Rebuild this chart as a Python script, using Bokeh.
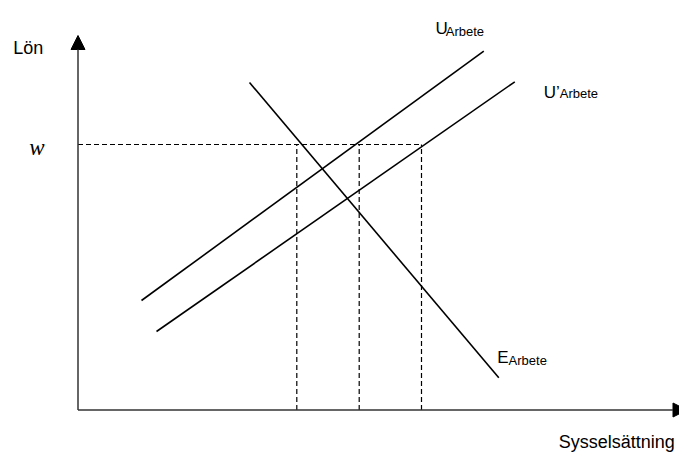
from bokeh.plotting import figure
from bokeh.models import Range1d, Arrow, NormalHead
from bokeh.core.properties import value
from bokeh.embed import file_html
from bokeh.resources import INLINE

# ---- data (diagram units, origin at the axes' corner) ----
curve_names = ["U", "U’", "E"]
curve_x0 = [63.5, 78.5, 171.5]
curve_y0 = [109.5, 78.5, 327.5]
curve_x1 = [405.8, 436.8, 420.8]
curve_y1 = [358.8, 328.2, 32.2]
subscript = "Arbete"

wage_level = 265.5
employment_levels = [218.8, 281.2, 343.5]

x_axis_end = 609.0
y_axis_end = 374.5

axis_titles = ["Lön", "Sysselsättning"]
wage_label = "w"

# ---- layout (label positions) ----
curve_label_x = [357.5, 465.8, 419.2]
curve_label_y = [381.5, 318.0, 52.2]
curve_sub_x = [367.8, 481.8, 430.6]
curve_sub_y = [378.5, 316.5, 50.0]

p = figure(width=679, height=452,
           x_range=Range1d(-77.5, 601.5), y_range=Range1d(-42.5, 409.5),
           output_backend="svg", toolbar_location=None,
           x_axis_type=None, y_axis_type=None, min_border=0)
p.grid.visible = False
p.outline_line_color = None
p.background_fill_color = "white"
p.border_fill_color = "white"

# axes with arrow heads
axis_color = "#333333"
p.add_layout(Arrow(x_start=0, y_start=0, x_end=0, y_end=y_axis_end,
                   line_color=axis_color, line_width=1.5,
                   end=NormalHead(size=14, fill_color="black", line_color="black", line_width=1)))
p.add_layout(Arrow(x_start=0, y_start=0, x_end=x_axis_end, y_end=0,
                   line_color=axis_color, line_width=1.5,
                   end=NormalHead(size=14, fill_color="black", line_color="black", line_width=1)))

# dashed guides
p.segment(x0=[0], y0=[wage_level], x1=[max(employment_levels)], y1=[wage_level],
          line_color="black", line_width=1.2, line_dash="5 3")
p.segment(x0=employment_levels, y0=[0] * len(employment_levels),
          x1=employment_levels, y1=[wage_level] * len(employment_levels),
          line_color="black", line_width=1.2, line_dash="5 3")

# curves
p.segment(x0=curve_x0, y0=curve_y0, x1=curve_x1, y1=curve_y1,
          line_color="black", line_width=1.6)

font = value("Liberation Sans")
p.text(x=curve_label_x, y=curve_label_y, text=curve_names,
       text_font=font, text_font_size="17px", text_baseline="alphabetic",
       text_align="left", text_color="black")
p.text(x=curve_sub_x, y=curve_sub_y, text=[subscript] * 3,
       text_font=font, text_font_size="13px", text_baseline="alphabetic",
       text_align="left", text_color="black")

# axis titles
p.text(x=[-64.8], y=[362.5], text=[axis_titles[0]],
       text_font=font, text_font_size="18px", text_baseline="alphabetic",
       text_align="left", text_color="black")
p.text(x=[480.8], y=[-31.5], text=[axis_titles[1]],
       text_font=font, text_font_size="18px", text_baseline="alphabetic",
       text_align="left", text_color="black")

# wage label
p.text(x=[-41], y=[wage_level - 3], text=[wage_label],
       text_font=value("Liberation Serif"), text_font_style="italic",
       text_font_size="23px", text_baseline="alphabetic",
       text_align="center", text_color="black")

open("out.html", "w").write(file_html(p, INLINE))
